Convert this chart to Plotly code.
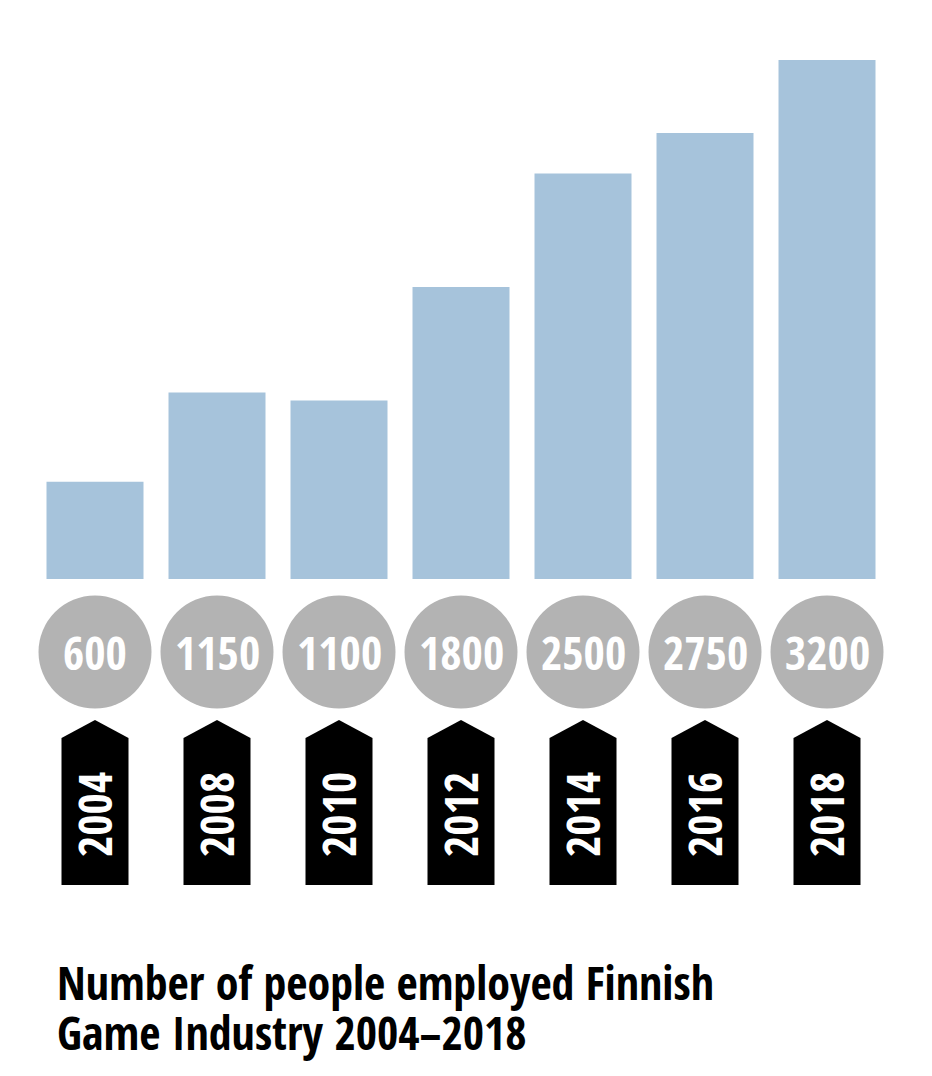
import plotly.graph_objects as go

years = ["2004", "2008", "2010", "2012", "2014", "2016", "2018"]
employees = [600, 1150, 1100, 1800, 2500, 2750, 3200]
title_lines = ["Number of people employed Finnish", "Game Industry 2004–2018"]

FONT = "Liberation Sans Narrow, Open Sans Condensed, DejaVu Sans Condensed, sans-serif"
BAR_COLOR = "#a6c3db"
CIRCLE_COLOR = "#b3b3b3"

xs = list(range(len(years)))

fig = go.Figure()
fig.add_trace(go.Bar(x=xs, y=employees, width=0.795, marker=dict(color=BAR_COLOR, line=dict(width=0)),
                     hoverinfo="skip"))

shapes = []
annotations = []
for i, (yr, v) in enumerate(zip(years, employees)):
    # circle (pixel-sized, anchored at bar baseline)
    shapes.append(dict(type="circle", xref="x", yref="y", xsizemode="pixel", ysizemode="pixel",
                       xanchor=i, yanchor=0, x0=-56.5, x1=56.5, y0=-129.5, y1=-16.5,
                       fillcolor=CIRCLE_COLOR, line=dict(width=0), layer="above"))
    # arrow tag
    shapes.append(dict(type="path", xref="x", yref="y", xsizemode="pixel", ysizemode="pixel",
                       xanchor=i, yanchor=0,
                       path="M -33.5 -306 L -33.5 -159 L 0 -141 L 33.5 -159 L 33.5 -306 Z",
                       fillcolor="black", line=dict(width=0), layer="above"))
    annotations.append(dict(x=i, y=0, xref="x", yref="y", yshift=-73, text=str(v), showarrow=False,
                            font=dict(family=FONT, size=46, color="white", weight="bold"),
                            xanchor="center", yanchor="middle"))
    annotations.append(dict(x=i, y=0, xref="x", yref="y", yshift=-236, xshift=-1, text=yr, showarrow=False,
                            textangle=-90,
                            font=dict(family=FONT, size=46, color="white", weight="bold"),
                            xanchor="center", yanchor="middle"))

for k, line in enumerate(title_lines):
    annotations.append(dict(x=-0.5, y=0, xref="x", yref="y", xshift=21, yshift=-403 - 50 * k,
                            text=line, showarrow=False, xanchor="left", yanchor="middle",
                            font=dict(family=FONT, size=46, color="black", weight="bold")))

fig.update_layout(
    width=932, height=1076,
    margin=dict(l=26, r=52, t=0, b=0),
    paper_bgcolor="white", plot_bgcolor="white",
    showlegend=False,
    xaxis=dict(range=[-0.5, 6.5], visible=False, fixedrange=True),
    yaxis=dict(range=[-3114, 3521], visible=False, fixedrange=True),
    shapes=shapes,
    annotations=annotations,
)

fig.write_html("out.html")
